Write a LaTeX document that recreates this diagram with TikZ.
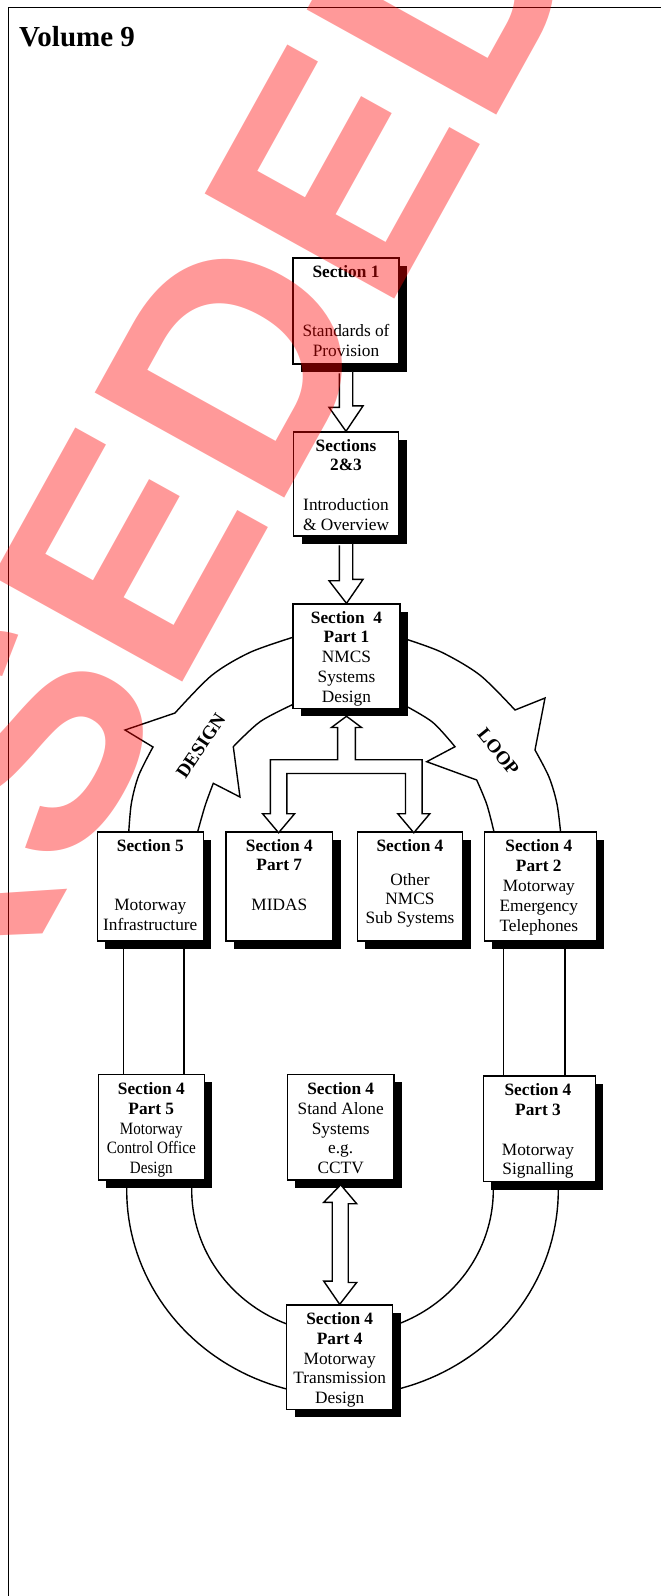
\documentclass[tikz,border=0pt]{standalone}
\usepackage{fontspec}
\usepackage{graphicx}
\setmainfont{Liberation Serif}
\newfontfamily\wmfont{Liberation Sans}
\usetikzlibrary{shadows,calc}
\begin{document}
\begin{tikzpicture}[x=1pt,y=-1pt,
  sbox/.style={draw, line width=1.4pt, fill=white, inner sep=0pt,
    drop shadow={shadow xshift=8pt, shadow yshift=-8pt, fill=black, opacity=1}},
  tx/.style={align=center, inner sep=0pt, anchor=north, font=\fontsize{17.3}{19.8}\selectfont},
  band/.style={line width=1.4pt},
  barrow/.style={draw, line width=1.4pt, fill=white, line join=miter},
  lbl/.style={font=\fontsize{19}{22}\selectfont\bfseries, inner sep=0pt}]
\useasboundingbox (0,0) rectangle (661,1596);
\fill[white] (0,0) rectangle (661,1596);
\draw[line width=1.8pt] (661,7.5) -- (8.5,7.5) -- (8.5,1596);
\node[anchor=base west, inner sep=0pt, font=\fontsize{29}{31}\selectfont\bfseries] (vol) at (19,46) {Volume 9};

% ---- loop band: upper half ----
\draw[band] plot[smooth] coordinates {(297,636) (250.4,652.2) (211.8,675.3) (175,713)} -- (125,730)
  -- plot[smooth] coordinates {(153,747) (138.7,775.4) (131.3,803.7) (128.5,836)};
\draw[band] plot[smooth] coordinates {(404,638.5) (441.6,652.2) (480.2,675.3) (515,710)} -- (545,698)
  -- plot[smooth] coordinates {(535,750) (549,777) (557,804) (561,836)};
\draw[band] plot[smooth] coordinates {(296,703) (260.5,721.4) (233.3,746.7)} -- (240,797)
  -- plot[smooth] coordinates {(213.3,783.3) (205,806) (196.5,836)};
\draw[band] plot[smooth] coordinates {(404,705) (432.6,722.2) (455,746.7)} -- (426.7,761.7)
  -- plot[smooth] coordinates {(476.7,780) (487,805) (495,836)};
% ---- straight sides ----
\draw[band] (123.3,940) -- (123.3,1078);
\draw[band] (184,940) -- (184,1078);
\draw[band] (503.3,940) -- (503.3,1080);
\draw[band] (565,940) -- (565,1080);
% ---- lower half (elliptic arcs) ----
\draw[band] (126.7,1182) -- plot[domain=180:102, samples=40] ({342.5+215.8*cos(\x)},{1190+206*sin(\x)});
\draw[band] (191.7,1182) -- plot[domain=180:108, samples=40] ({342.5+150.8*cos(\x)},{1190+144.2*sin(\x)});
\draw[band] (493.3,1182) -- plot[domain=0:72, samples=40] ({342.5+150.8*cos(\x)},{1190+144.2*sin(\x)});
\draw[band] (558.3,1182) -- plot[domain=0:78, samples=40] ({342.5+215.8*cos(\x)},{1190+206*sin(\x)});

\node[lbl, rotate=56] (dl) at (200.8,745.8) {DESIGN};
\node[lbl, rotate=-51] (ll) at (498.3,751.7) {LOOP};

% ---- boxes ----
\node[sbox, minimum width=106pt, minimum height=106pt] (s1) at (346,311) {};
\node[sbox, minimum width=105pt, minimum height=104pt] (s23) at (346,484) {};
\node[sbox, minimum width=106.7pt, minimum height=104.3pt] (p1) at (346.5,656.2) {};
\node[sbox, minimum width=106pt, minimum height=109pt] (s5) at (150.3,886.5) {};
\node[sbox, minimum width=106.7pt, minimum height=109pt] (p7) at (279.3,886.5) {};
\node[sbox, minimum width=105.4pt, minimum height=109pt] (oth) at (410,886.5) {};
\node[sbox, minimum width=112pt, minimum height=109pt] (p2) at (540.3,886.5) {};
\node[sbox, minimum width=106pt, minimum height=105.7pt] (p5) at (151.3,1127.2) {};
\node[sbox, minimum width=106.7pt, minimum height=105.7pt] (sa) at (340.7,1127.2) {};
\node[sbox, minimum width=112pt, minimum height=105.7pt] (p3) at (539.3,1128.8) {};
\node[sbox, minimum width=106pt, minimum height=104.3pt] (p4) at (339.7,1357.2) {};

% ---- box texts ----
\node[tx] (ts1) at (346,263.1) {\strut\textbf{Section 1}\\[39.6pt]Standards of\\Provision};
\node[tx] (ts23) at (346,437.1) {\strut\textbf{Sections}\\\textbf{2\&3}\\[19.8pt]Introduction\\\&~Overview};
\node[tx] (tp1) at (346.5,609.1) {\strut\textbf{Section\ \ 4}\\\textbf{Part 1}\\NMCS\\Systems\\Design};
\node[tx] (ts5) at (150.3,837.1) {\strut\textbf{Section 5}\\[39.6pt]Motorway\\Infrastructure};
\node[tx] (tp7) at (279.3,837.1) {\strut\textbf{Section 4}\\\textbf{Part 7}\\[19.8pt]MIDAS};
\node[tx] (toth) at (410,837.1) {\strut\textbf{Section 4}\\[14.2pt]Other\\[-0.8pt]NMCS\\[-0.8pt]Sub Systems};
\node[tx] (tp2) at (538.8,837.8) {\strut\textbf{Section 4}\\\textbf{Part 2}\\Motorway\\Emergency\\Telephones};
\node[tx] (tp5) at (151.3,1080.4) {\strut\textbf{Section 4}\\\textbf{Part 5}\\\scalebox{0.87}[1]{Motorway}\\\scalebox{0.88}[1]{Control Office}\\\scalebox{0.87}[1]{Design}};
\node[tx] (tsa) at (340.7,1080.4) {\strut\textbf{Section 4}\\Stand Alone\\Systems\\e.g.\\CCTV};
\node[tx] (tp3) at (538,1081.6) {\strut\textbf{Section 4}\\\textbf{Part 3}\\[19.8pt]Motorway\\Signalling};
\node[tx] (tp4) at (339.7,1310.4) {\strut\textbf{Section 4}\\\textbf{Part 4}\\Motorway\\Transmission\\Design};

% ---- block arrows ----
\draw[barrow] ([xshift=-6.7pt,yshift=-8.6pt]s1.south) -- ++(0,34) -- ++(-10.3,0) -- (s23.north)
  -- ++(17,-25.4) -- ++(-10.3,0) -- ++(0,-34);
\draw[barrow] ([xshift=-6.7pt,yshift=-8.6pt]s23.south) -- ++(0,35.4) -- ++(-10.3,0) -- (p1.north)
  -- ++(16.5,-24) -- ++(-10.3,0) -- ++(0,-35.4);
\draw[barrow] ([yshift=-7.2pt]p1.south) -- ++(15,11.2) -- ++(-6.1,0) -- ++(0,32.3) -- ++(66.7,0)
  -- ++(0,54) -- ++(7.7,0) -- ++(-16,19) -- ++(-16,-19) -- ++(7.7,0) -- ++(0,-40.3)
  -- ++(-118.6,0) -- ++(0,40.3) -- ++(7.7,0) -- ++(-16,19) -- ++(-16,-19) -- ++(7.7,0)
  -- ++(0,-54) -- ++(67.3,0) -- ++(0,-32.3) -- ++(-6.1,0) -- cycle;
\draw[barrow] ([yshift=-4pt]sa.south) -- ++(16,19) -- ++(-8.5,0) -- ++(0,78.7) -- ++(8.5,0)
  -- (p4.north) -- ++(-16,-23.3) -- ++(8.5,0) -- ++(0,-78.7) -- ++(-8.5,0) -- cycle;

% ---- watermark ----
\begin{scope}
\clip (0,0) rectangle (661,1596);
\node[font=\wmfont\bfseries\fontsize{315}{315}\selectfont, text=red, opacity=0.4, rotate=61,
  anchor=base east, inner sep=0pt] (wm) at (597,-65.7) {SUPERSEDED};
\end{scope}
\end{tikzpicture}
\end{document}
